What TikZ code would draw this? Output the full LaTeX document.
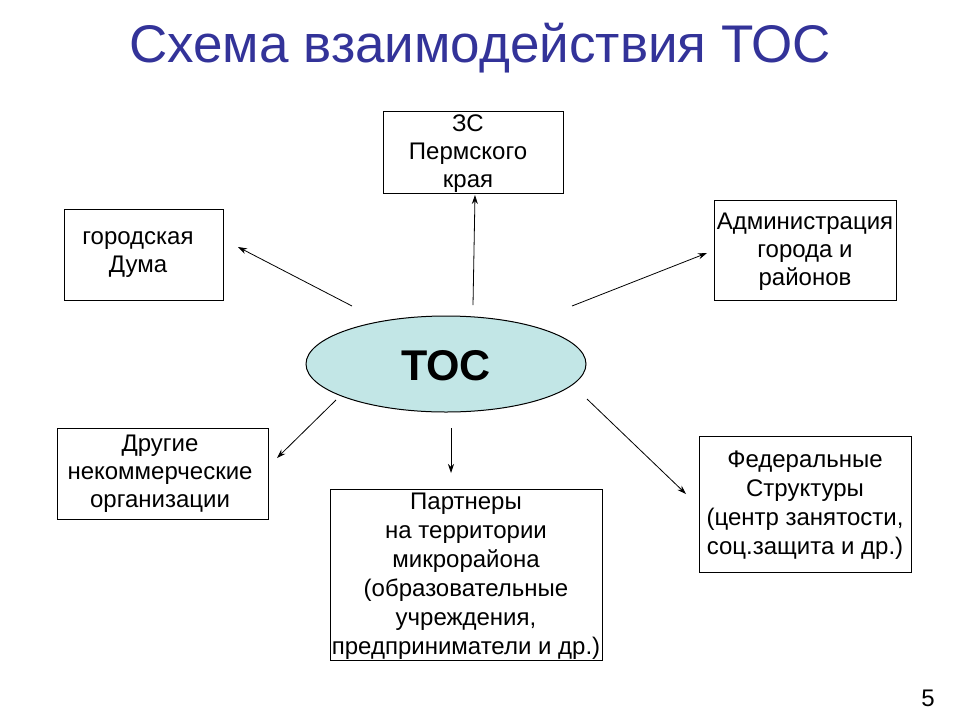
\documentclass[tikz,border=0pt]{standalone}
\usepackage{fontspec}
\setmainfont{Liberation Sans}
\usetikzlibrary{shapes.geometric,arrows.meta}
\definecolor{ttl}{HTML}{333399}
\definecolor{ell}{HTML}{C2E6E6}
\begin{document}
\begin{tikzpicture}[x=1pt,y=-1pt,
 box/.style={draw,line width=1pt,inner sep=0pt},
 txt/.style={align=center,font=\fontsize{24}{28}\selectfont},
 arr/.style={-{Stealth[length=9pt,width=6pt]},line width=0.8pt}]
\useasboundingbox (0,0) rectangle (960,720);
\node[font=\fontsize{53}{58}\selectfont,text=ttl] (title) at (480,48) {Схема взаимодействия ТОС};
\node[ellipse,draw,line width=1pt,fill=ell,minimum width=280,minimum height=96] (toc) at (446,364) {};
\node[font=\fontsize{43}{46}\selectfont\bfseries] (toct) at (446,366) {ТОС};
\node[box,minimum width=180,minimum height=82] (zs) at (473,152) {};
\node[txt] at (468,154) {ЗС\\Пермского\\края};
\node[box,minimum width=159,minimum height=91] (gd) at (143.5,254.5) {};
\node[txt] at (138,255) {городская\\Дума};
\node[box,minimum width=182,minimum height=100] (adm) at (805,250) {};
\node[txt] at (805,252) {Администрация\\города и\\районов};
\node[box,minimum width=211,minimum height=91] (dr) at (162.5,473.5) {};
\node[txt] at (160,474) {Другие\\некоммерческие\\организации};
\node[box,minimum width=272,minimum height=171] (par) at (466,574.5) {};
\node[txt,font=\fontsize{24}{29}\selectfont] at (466,576) {Партнеры\\на территории\\микрорайона\\(образовательные\\учреждения,\\предприниматели и др.)};
\node[box,minimum width=212,minimum height=136] (fed) at (805,504) {};
\node[txt,font=\fontsize{24}{29}\selectfont] at (805,505) {Федеральные\\Структуры\\(центр занятости,\\соц.защита и др.)};
\node[font=\fontsize{24}{26}\selectfont] (pg) at (928,698) {5};
\coordinate (a1) at (473,305); \coordinate (b1) at (475,195);
\coordinate (a2) at (352,306); \coordinate (b2) at (238,247);
\coordinate (a3) at (572,306); \coordinate (b3) at (707,253);
\coordinate (a4) at (336,400); \coordinate (b4) at (277,458);
\coordinate (a5) at (451,428); \coordinate (b5) at (451,473);
\coordinate (a6) at (587,399); \coordinate (b6) at (686,494);
\foreach \i in {1,...,6} \draw[arr] (a\i) -- (b\i);
\end{tikzpicture}
\end{document}
